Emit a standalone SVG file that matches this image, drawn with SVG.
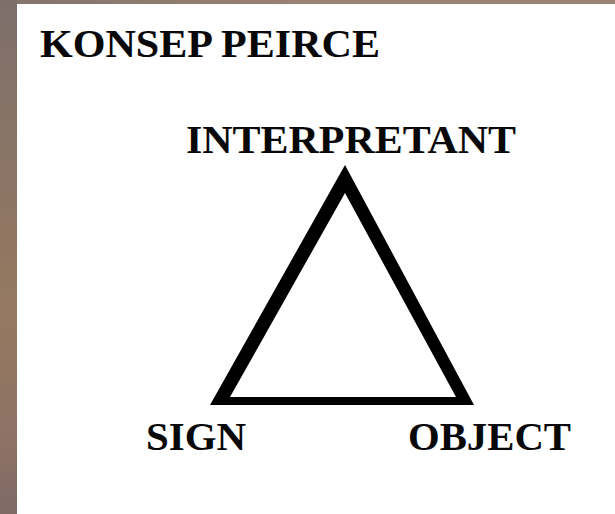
<svg xmlns="http://www.w3.org/2000/svg" width="615" height="514" viewBox="0 0 615 514">
  <defs>
    <linearGradient id="side" x1="0" y1="0" x2="0" y2="1">
      <stop offset="0" stop-color="#7e6f6b"/>
      <stop offset="0.3" stop-color="#8a7466"/>
      <stop offset="0.6" stop-color="#957960"/>
      <stop offset="0.85" stop-color="#8e7265"/>
      <stop offset="1" stop-color="#7f6a66"/>
    </linearGradient>
    <linearGradient id="top" x1="0" y1="0" x2="1" y2="0">
      <stop offset="0" stop-color="#85736c"/>
      <stop offset="0.5" stop-color="#9a8273"/>
      <stop offset="1" stop-color="#9c8475"/>
    </linearGradient>
  </defs>
  <style>
    .lbl { font-family: "Liberation Serif", "Times New Roman", serif; font-weight: bold; font-size: 40px; fill: #080808; }
  </style>
  <rect x="0" y="0" width="615" height="514" fill="#ffffff"/>
  <rect x="0" y="0" width="615" height="4" fill="url(#top)"/>
  <rect x="0" y="0" width="17" height="514" fill="url(#side)"/>

  <g id="title">
    <text class="lbl" x="40" y="57" textLength="340" lengthAdjust="spacingAndGlyphs">KONSEP PEIRCE</text>
  </g>

  <g id="connectors">
    <path d="M345,165 L210,405 L474,405 Z M345,193 L230,397 L456,397 Z" fill="#000000" fill-rule="evenodd"/>
  </g>

  <g id="interpretant">
    <text class="lbl" x="186" y="153" textLength="330" lengthAdjust="spacingAndGlyphs">INTERPRETANT</text>
  </g>
  <g id="sign">
    <text class="lbl" x="146" y="450" textLength="100" lengthAdjust="spacingAndGlyphs">SIGN</text>
  </g>
  <g id="object">
    <text class="lbl" x="408" y="450" textLength="163" lengthAdjust="spacingAndGlyphs">OBJECT</text>
  </g>
</svg>
